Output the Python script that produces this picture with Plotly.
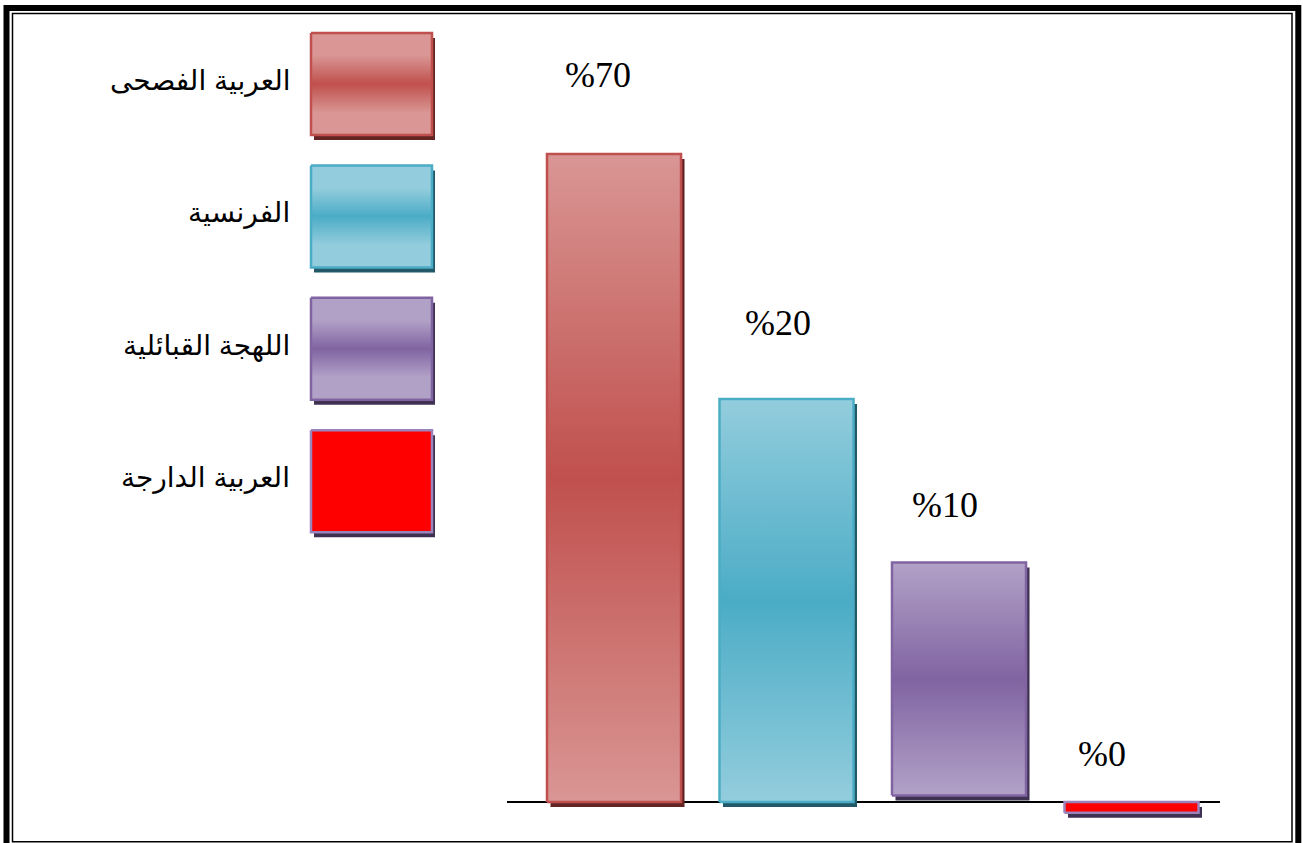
import plotly.graph_objects as go

# ---------------- data ----------------
categories = ["العربية الفصحى", "الفرنسية", "اللهجة القبائلية", "العربية الدارجة"]
bar_top = [70.1, 43.6, 25.9, 0.0]      # top of each drawn bar
bar_base = [0.0, 0.0, 0.7, -1.15]      # bottom of each drawn bar
value_labels = ["%70", "%20", "%10", "%0"]

# ---------------- styles ----------------
fill_light = ["#D99694", "#93CDDD", "#B2A1C7", "#FF0000"]
fill_dark = ["#C0504D", "#4BACC6", "#8064A2", "#FF0000"]
border_col = ["#C0504D", "#4BACC6", "#8064A2", "#9B84BC"]
shadow_col = ["#632523", "#215968", "#3F3151", "#3F3151"]

W, H = 1303, 843
X_DOMAIN_PX = (507, 1220)
X_RANGE = (-0.6203, 3.5130)
Y_RANGE = (-4.436, 86.77)
BAR_WIDTH = 0.777
SHADOW_PX = (3.5, 5.0)
LABEL_XSHIFT = [-16, -9, -14, -29.5]
LABEL_YSHIFT = [79, 76, 57.6, 48.5]

LEG_X = (311, 432)
LEG_TOP = 33
LEG_H = 102
LEG_PITCH = 132.4
LEG_TEXT_X = 292

px_per_x = (X_DOMAIN_PX[1] - X_DOMAIN_PX[0]) / (X_RANGE[1] - X_RANGE[0])
px_per_y = H / (Y_RANGE[1] - Y_RANGE[0])
sdx = SHADOW_PX[0] / px_per_x
sdy = SHADOW_PX[1] / px_per_y


def rect(x0, x1, y0, y1):
    return [x0, x1, x1, x0, x0], [y0, y0, y1, y1, y0]


fig = go.Figure()

# ---------------- bars ----------------
for i, cat in enumerate(categories):
    x0, x1 = i - BAR_WIDTH / 2, i + BAR_WIDTH / 2
    y0, y1 = bar_base[i], bar_top[i]
    sx, sy = rect(x0 + sdx, x1 + sdx, y0 - sdy, y1 - sdy)
    fig.add_trace(go.Scatter(x=sx, y=sy, mode="lines", fill="toself",
                             fillcolor=shadow_col[i], line=dict(width=0),
                             hoverinfo="skip", showlegend=False,
                             xaxis="x", yaxis="y"))
    bx, by = rect(x0, x1, y0, y1)
    fig.add_trace(go.Scatter(
        x=bx, y=by, mode="lines", fill="toself", name=cat,
        fillgradient=dict(type="vertical",
                          colorscale=[[0, fill_light[i]], [0.5, fill_dark[i]],
                                      [1, fill_light[i]]]),
        line=dict(color=border_col[i], width=2.5),
        hoverinfo="skip", showlegend=False, xaxis="x", yaxis="y"))

# ---------------- legend (pixel axes) ----------------
for i, cat in enumerate(categories):
    t = LEG_TOP + i * LEG_PITCH
    b = t + LEG_H
    sx, sy = rect(LEG_X[0] + 3, LEG_X[1] + 3, t + 5, b + 5)
    fig.add_trace(go.Scatter(x=sx, y=sy, mode="lines", fill="toself",
                             fillcolor=shadow_col[i], line=dict(width=0),
                             hoverinfo="skip", showlegend=False,
                             xaxis="x2", yaxis="y2"))
    bx, by = rect(LEG_X[0], LEG_X[1], t, b)
    fig.add_trace(go.Scatter(
        x=bx, y=by, mode="lines", fill="toself",
        fillgradient=dict(type="vertical",
                          colorscale=[[0, fill_light[i]], [0.22, fill_light[i]],
                                      [0.5, fill_dark[i]], [0.78, fill_light[i]],
                                      [1, fill_light[i]]]),
        line=dict(color=border_col[i], width=2.5),
        hoverinfo="skip", showlegend=False, xaxis="x2", yaxis="y2"))
    fig.add_annotation(x=LEG_TEXT_X, y=(t + b) / 2 - 3, xref="x2", yref="y2",
                       text=cat, showarrow=False, xanchor="right", yanchor="middle",
                       font=dict(family="Arial, 'DejaVu Sans', sans-serif",
                                 size=28, color="black"))

# ---------------- value labels ----------------
for i, lab in enumerate(value_labels):
    fig.add_annotation(x=i, y=bar_top[i], xref="x", yref="y", text=lab,
                       showarrow=False, xanchor="center", yanchor="middle",
                       xshift=LABEL_XSHIFT[i], yshift=LABEL_YSHIFT[i],
                       font=dict(family="'Times New Roman', 'Liberation Serif', serif",
                                 size=36, color="black"))

# ---------------- frame ----------------
fig.add_shape(type="rect", xref="x2", yref="y2", x0=6.5, y0=8, x1=1298.3, y1=870,
              line=dict(color="black", width=6), layer="above")
fig.add_shape(type="rect", xref="x2", yref="y2", x0=12.5, y0=13.5, x1=1292, y1=841.8,
              line=dict(color="black", width=1.5), layer="above")

fig.update_layout(
    width=W, height=H,
    margin=dict(l=0, r=0, t=0, b=0),
    paper_bgcolor="white", plot_bgcolor="rgba(0,0,0,0)",
    showlegend=False,
    xaxis=dict(domain=[X_DOMAIN_PX[0] / W, X_DOMAIN_PX[1] / W], range=list(X_RANGE),
               visible=False, fixedrange=True),
    yaxis=dict(domain=[0, 1], range=list(Y_RANGE), showgrid=False, showticklabels=False,
               ticks="", showline=False, zeroline=True, zerolinecolor="black",
               zerolinewidth=2, fixedrange=True),
    xaxis2=dict(domain=[0, 1], range=[0, W], visible=False, anchor="y2", fixedrange=True),
    yaxis2=dict(domain=[0, 1], range=[H, 0], visible=False, anchor="x2", fixedrange=True),
)

fig.write_html("out.html", config={"displayModeBar": False},
               post_script="document.body.style.margin='0';document.body.style.overflow='hidden';")
